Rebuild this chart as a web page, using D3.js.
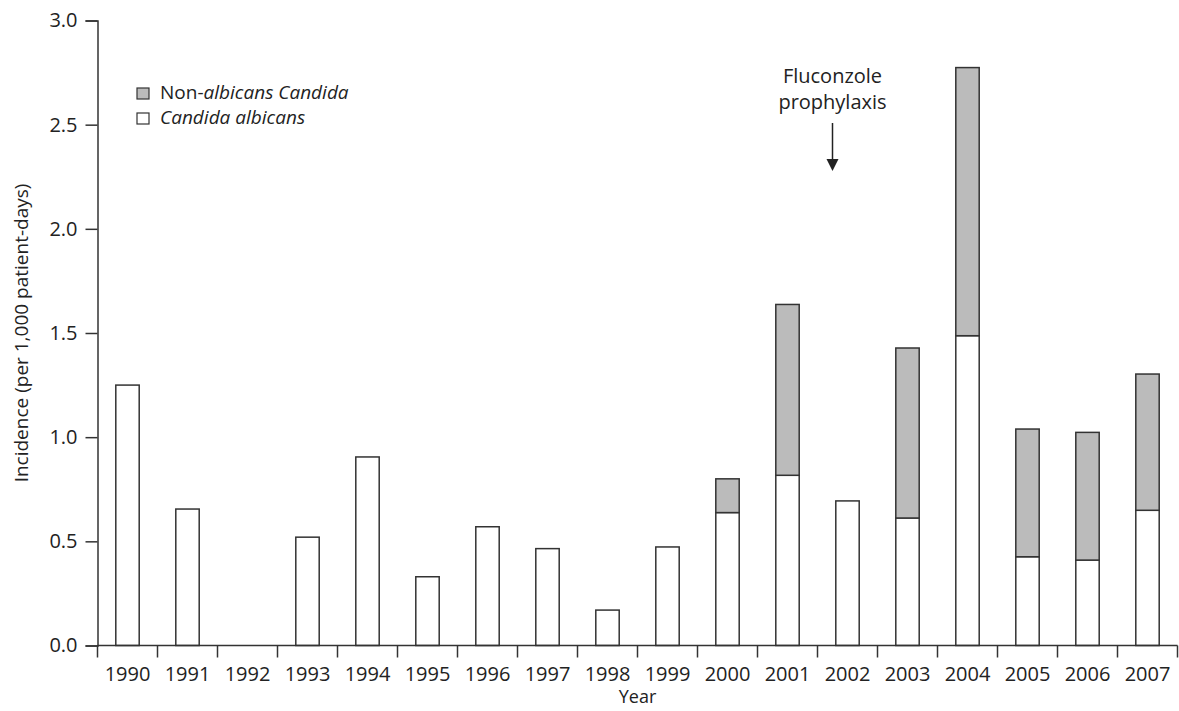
<!DOCTYPE html>
<html>
<head>
<meta charset="utf-8">
<script src="https://cdn.jsdelivr.net/npm/d3@7"></script>
<style>
  body { margin: 0; background: #fff; }
  text { font-family: "Open Sans", sans-serif; fill: #222; }
</style>
</head>
<body>
<svg id="chart" width="1179" height="711"></svg>
<script>
// data
var years = ["1990", "1991", "1992", "1993", "1994", "1995", "1996", "1997", "1998",
             "1999", "2000", "2001", "2002", "2003", "2004", "2005", "2006", "2007"];
var albicans = [1.25, 0.655, 0, 0.52, 0.905, 0.33, 0.57, 0.465, 0.17,
                0.473, 0.638, 0.817, 0.694, 0.612, 1.487, 0.426, 0.41, 0.649];
var nonAlbicans = [0, 0, 0, 0, 0, 0, 0, 0, 0,
                   0, 0.162, 0.82, 0, 0.816, 1.287, 0.613, 0.613, 0.654];
var yTicks = [0, 0.5, 1.0, 1.5, 2.0, 2.5, 3.0];

var svg = d3.select("#chart");
var margin = {top: 20.5, right: 1.5, bottom: 65.5, left: 97.5};
var w = 1179, h = 711;

var rows = years.map(function(y, i) {
    return {year: y, albicans: albicans[i], non: nonAlbicans[i]};
});

var x = d3.scaleBand()
    .domain(years)
    .range([margin.left, w - margin.right])
    .paddingInner(0.61)
    .paddingOuter(0.305);

var y = d3.scaleLinear()
    .domain([0, 3])
    .range([h - margin.bottom, margin.top]);

var stack = d3.stack().keys(["albicans", "non"]);
var series = stack(rows);
var fills = {albicans: "#ffffff", non: "#bbbbbb"};

// bars
svg.append("g").selectAll("g")
    .data(series)
    .enter().append("g")
    .attr("fill", function(d) { return fills[d.key]; })
    .selectAll("rect")
    .data(function(d) { return d.filter(function(e) { return e[1] - e[0] > 0; }); })
    .enter().append("rect")
    .attr("x", function(d) { return x(d.data.year); })
    .attr("y", function(d) { return y(d[1]); })
    .attr("width", x.bandwidth())
    .attr("height", function(d) { return y(d[0]) - y(d[1]); })
    .attr("stroke", "#333")
    .attr("stroke-width", 1.5);

// y axis
var yAxis = svg.append("g")
    .attr("transform", "translate(" + margin.left + ",0)")
    .call(d3.axisLeft(y).tickValues(yTicks).tickFormat(d3.format(".1f")).tickSizeOuter(0).tickSize(12).tickPadding(8));

// x axis: ticks sit on the category boundaries
var bounds = years.map(function(d) { return x(d) - x.step() * x.paddingInner() / 2; });
bounds.push(w - margin.right);
var xAxis = svg.append("g")
    .attr("transform", "translate(0," + (h - margin.bottom) + ")");
xAxis.append("line")
    .attr("x1", margin.left).attr("x2", w - margin.right)
    .attr("stroke", "#333").attr("stroke-width", 1.5);
xAxis.selectAll(".tk")
    .data(bounds)
    .enter().append("line")
    .attr("x1", function(d) { return d; })
    .attr("x2", function(d) { return d; })
    .attr("y1", 0).attr("y2", 12)
    .attr("stroke", "#333").attr("stroke-width", 1.5);
xAxis.selectAll(".lbl")
    .data(years)
    .enter().append("text")
    .attr("x", function(d) { return x(d) + x.bandwidth() / 2; })
    .attr("y", 35)
    .attr("text-anchor", "middle")
    .style("font-size", "20px")
    .text(function(d) { return d; });

yAxis.select(".domain").attr("stroke", "#333").attr("stroke-width", 1.5);
yAxis.selectAll(".tick line").attr("stroke", "#333").attr("stroke-width", 1.5);
yAxis.selectAll(".tick text").style("font-size", "20px").attr("fill", "#222");

// axis titles
svg.append("text")
    .attr("x", (margin.left + w - margin.right) / 2)
    .attr("y", h - 8)
    .attr("text-anchor", "middle")
    .style("font-size", "18px")
    .text("Year");

svg.append("text")
    .attr("transform", "translate(28," + (h - margin.bottom + margin.top) / 2 + ") rotate(-90)")
    .attr("text-anchor", "middle")
    .style("font-size", "19px")
    .text("Incidence (per 1,000 patient-days)");

// legend
var legend = svg.append("g").attr("transform", "translate(137,88)");
var legendItems = [
    {key: "non", parts: [["Non-", "normal"], ["albicans Candida", "italic"]]},
    {key: "albicans", parts: [["Candida albicans", "italic"]]}
];
legendItems.forEach(function(item, i) {
    var g = legend.append("g").attr("transform", "translate(0," + i * 25 + ")");
    g.append("rect")
        .attr("width", 12).attr("height", 11)
        .attr("fill", fills[item.key])
        .attr("stroke", "#333").attr("stroke-width", 1.2);
    var t = g.append("text").attr("x", 23).attr("y", 11).style("font-size", "19px");
    item.parts.forEach(function(p) {
        t.append("tspan").style("font-style", p[1]).text(p[0]);
    });
});

// annotation
var ax = x("2002") + x.bandwidth() / 2 - 15;
svg.append("text").attr("x", ax).attr("y", 83).attr("text-anchor", "middle")
    .style("font-size", "20px").text("Fluconzole");
svg.append("text").attr("x", ax).attr("y", 109).attr("text-anchor", "middle")
    .style("font-size", "20px").text("prophylaxis");
svg.append("line")
    .attr("x1", ax).attr("x2", ax).attr("y1", 123).attr("y2", 160)
    .attr("stroke", "#222").attr("stroke-width", 1.5);
svg.append("path")
    .attr("d", d3.line()([[ax - 6, 159], [ax + 6, 159], [ax, 171]]))
    .attr("fill", "#222");
</script>
</body>
</html>
